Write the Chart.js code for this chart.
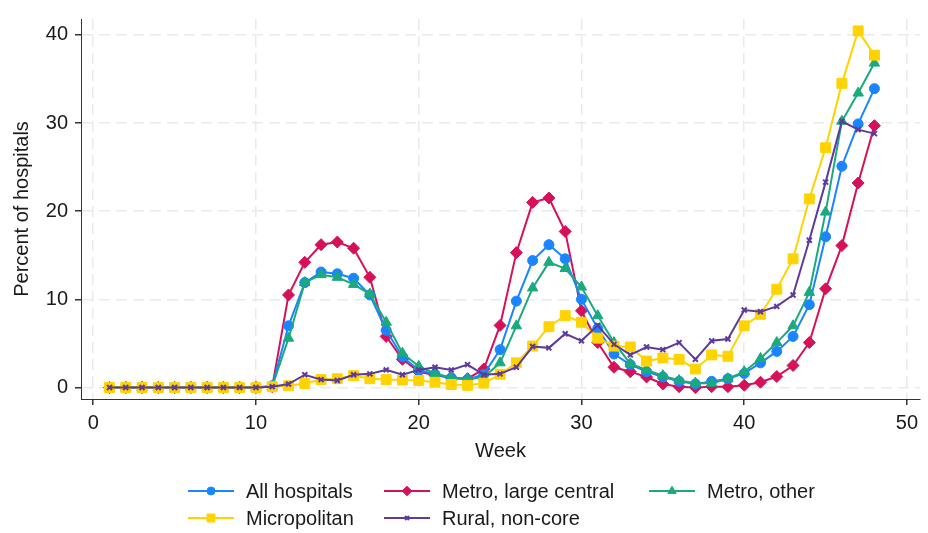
<!DOCTYPE html>
<html lang="en">
<head>
  <meta charset="UTF-8" />
  <title>Percent of hospitals by week</title>
  <script src="https://cdn.jsdelivr.net/npm/chart.js"></script>
  <style>
    html, body {
      margin: 0;
      padding: 0;
      background: #fff;
    }
    .wrap {
      width: 928px;
      height: 533px;
      position: relative;
    }
  </style>
</head>
<body>
  <div class="wrap">
    <canvas id="chart"></canvas>
  </div>

  <script>
    const weeks = [1, 2, 3, 4, 5, 6, 7, 8, 9, 10, 11, 12, 13, 14, 15, 16, 17, 18, 19, 20, 21, 22, 23, 24,
                   25, 26, 27, 28, 29, 30, 31, 32, 33, 34, 35, 36, 37, 38, 39, 40, 41, 42, 43, 44, 45, 46, 47, 48];

    const allHospitals = [0, 0, 0, 0, 0, 0, 0, 0, 0, 0, 0.2, 7.0, 11.9, 13.1, 12.9, 12.4, 10.5, 6.5, 3.5, 2.0, 1.5, 1.1, 0.9, 1.5,
                          4.3, 9.8, 14.4, 16.2, 14.6, 10.0, 6.7, 3.8, 2.6, 1.8, 1.2, 0.7, 0.4, 0.7, 1.0, 1.6, 2.8, 4.1, 5.8, 9.4, 17.1, 25.1, 29.9, 33.9];
    const metroLarge = [0, 0, 0, 0, 0, 0, 0, 0, 0, 0, 0.1, 10.5, 14.2, 16.2, 16.5, 15.8, 12.5, 5.8, 3.2, 1.8, 1.4, 1.1, 1.0, 2.1,
                        7.05, 15.3, 21.0, 21.5, 17.7, 8.7, 5.1, 2.3, 1.8, 1.2, 0.4, 0.1, 0.0, 0.1, 0.1, 0.25, 0.6, 1.25, 2.5, 5.1, 11.2, 16.1, 23.2, 29.7];
    const metroOther = [0, 0, 0, 0, 0, 0, 0, 0, 0, 0, 0.1, 5.6, 11.9, 12.8, 12.5, 11.7, 10.6, 7.4, 3.9, 2.4, 1.6, 1.1, 0.9, 1.2,
                        2.8, 7.0, 11.3, 14.2, 13.5, 11.4, 8.15, 5.1, 2.7, 2.0, 1.35, 0.8, 0.5, 0.5, 1.0, 1.8, 3.3, 5.1, 7.0, 10.8, 19.9, 30.2, 33.4, 36.8];
    const micropolitan = [0, 0, 0, 0, 0, 0, 0, 0, 0, 0, 0.1, 0.2, 0.45, 0.9, 1.0, 1.35, 1.0, 0.9, 0.85, 0.8, 0.6, 0.35, 0.25, 0.5,
                          1.5, 2.8, 4.7, 6.9, 8.15, 7.4, 5.6, 4.7, 4.6, 3.0, 3.35, 3.2, 2.1, 3.7, 3.55, 7.0, 8.3, 11.15, 14.6, 21.4, 27.2, 34.5, 40.45, 37.7];
    const ruralNonCore = [0, 0, 0, 0, 0, 0, 0, 0, 0, 0, 0.1, 0.4, 1.45, 0.9, 0.8, 1.45, 1.55, 2.0, 1.45, 2.0, 2.3, 2.0, 2.6, 1.45,
                          1.55, 2.3, 4.65, 4.5, 6.1, 5.3, 7.05, 4.9, 3.7, 4.6, 4.3, 5.1, 3.2, 5.3, 5.5, 8.8, 8.6, 9.2, 10.5, 16.7, 23.3, 30.2, 29.25, 28.8];

    const xTicks = [0, 10, 20, 30, 40, 50];
    const yTicks = [0, 10, 20, 30, 40];

    const FONT = '"Liberation Sans", Arial, sans-serif';

    function series(label, values, color, pointStyle, radius, order) {
      return {
        label: label,
        data: weeks.map((w, i) => ({ x: w, y: values[i] })),
        borderColor: color,
        backgroundColor: color,
        pointBackgroundColor: color,
        pointBorderColor: color,
        pointBorderWidth: pointStyle === 'crossRot' ? 2 : 1,
        pointStyle: pointStyle,
        pointRadius: radius,
        borderWidth: 2,
        tension: 0,
        order: order
      };
    }

    const datasets = [
      series('All hospitals', allHospitals, '#1a85ff', 'circle', 5, 3),
      series('Metro, large central', metroLarge, '#d41159', 'rectRot', 6, 4),
      series('Metro, other', metroOther, '#1aaa7d', 'triangle', 6, 2),
      series('Micropolitan', micropolitan, '#ffd300', 'rect', 7, 1),
      series('Rural, non-core', ruralNonCore, '#5d3a9b', 'crossRot', 3.5, 0)
    ];

    // legend drawn by hand so it sits in fixed columns like the original
    const legendSlots = [
      { x: 188, y: 491 },
      { x: 384, y: 491 },
      { x: 649, y: 491 },
      { x: 188, y: 518 },
      { x: 384, y: 518 }
    ];

    const gridLegend = {
      id: 'gridLegend',
      afterDraw(chart) {
        const ctx = chart.ctx;
        ctx.save();
        chart.data.datasets.forEach((ds, i) => {
          const s = legendSlots[i];
          ctx.strokeStyle = ds.borderColor;
          ctx.lineWidth = 2;
          ctx.beginPath();
          ctx.moveTo(s.x, s.y);
          ctx.lineTo(s.x + 46, s.y);
          ctx.stroke();
          ctx.fillStyle = ds.pointBackgroundColor;
          ctx.strokeStyle = ds.pointBorderColor;
          ctx.lineWidth = ds.pointBorderWidth;
          Chart.helpers.drawPoint(ctx, {
            pointStyle: ds.pointStyle,
            radius: ds.pointRadius * 0.8,
            rotation: 0,
            borderWidth: ds.pointBorderWidth
          }, s.x + 23, s.y);
          ctx.fillStyle = '#1a1a1a';
          ctx.font = '20px ' + FONT;
          ctx.textBaseline = 'middle';
          ctx.textAlign = 'left';
          ctx.fillText(ds.label, s.x + 58, s.y + 1);
        });
        ctx.restore();
      }
    };

    const gridOpts = {
      color: '#eaeaea',
      tickColor: '#333',
      tickLength: 6,
      tickBorderDash: [],
      lineWidth: 1.5
    };

    new Chart(document.getElementById('chart'), {
      type: 'line',
      data: { datasets: datasets },
      options: {
        responsive: true,
        maintainAspectRatio: false,
        animation: false,
        events: [],
        layout: {
          padding: { top: 8, right: 2, bottom: 66, left: 0 }
        },
        plugins: {
          legend: { display: false },
          tooltip: { enabled: false }
        },
        scales: {
          x: {
            type: 'linear',
            min: -0.75,
            max: 50.8,
            afterBuildTicks: (scale) => { scale.ticks = xTicks.map(v => ({ value: v })); },
            afterFit: (scale) => { scale.height = 68; },
            grid: gridOpts,
            border: { color: '#333', width: 1, dash: [11, 6] },
            ticks: {
              color: '#1a1a1a',
              font: { family: FONT, size: 20 },
              padding: 6,
              maxRotation: 0
            },
            title: {
              display: true,
              text: 'Week',
              color: '#1a1a1a',
              font: { family: FONT, size: 20 },
              padding: { top: 4, bottom: 4 }
            }
          },
          y: {
            min: -1.3,
            max: 41.8,
            afterBuildTicks: (scale) => { scale.ticks = yTicks.map(v => ({ value: v })); },
            afterFit: (scale) => { scale.width = 81; },
            grid: gridOpts,
            border: { color: '#333', width: 1, dash: [11, 6] },
            ticks: {
              color: '#1a1a1a',
              font: { family: FONT, size: 20 },
              padding: 7
            },
            title: {
              display: true,
              text: 'Percent of hospitals',
              color: '#1a1a1a',
              font: { family: FONT, size: 20 },
              padding: { top: 10, bottom: 0 }
            }
          }
        }
      },
      plugins: [gridLegend]
    });
  </script>
</body>
</html>
